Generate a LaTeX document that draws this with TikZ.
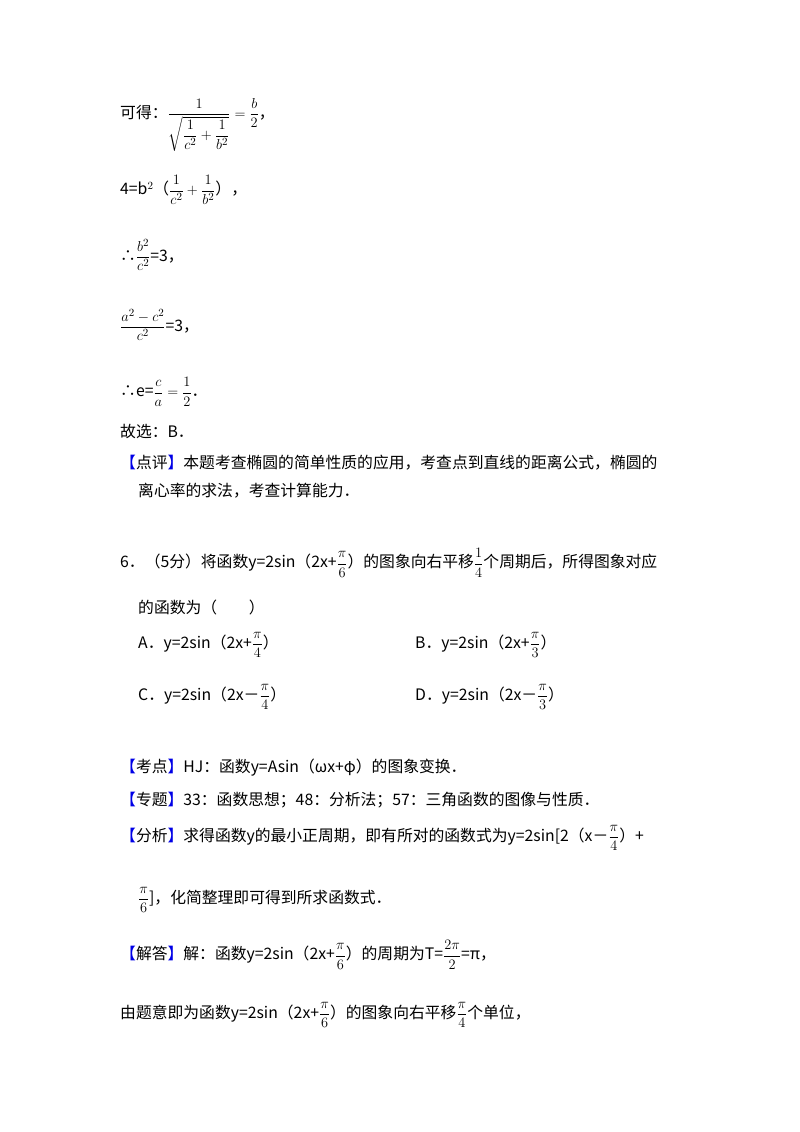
\documentclass[tikz,border=0pt]{standalone}
\usepackage{fontspec}
\setmainfont{Noto Sans CJK SC}
\usepackage{amsmath}
\definecolor{bl}{RGB}{0,0,230}
\begin{document}
\begin{tikzpicture}[x=1pt,y=-1pt,
  t/.style={anchor=west,inner sep=0pt,font=\fontsize{15.8}{18}\selectfont}]
\useasboundingbox[fill=white] (0,0) rectangle (800,1132);
\newcommand{\bk}[1]{\textcolor{bl}{【}#1\textcolor{bl}{】}}
\newcommand{\fr}[2]{{\displaystyle\frac{#1}{#2}}}
\node[t] (l1) at (120,125) {可得：$\fr{1}{\sqrt{\fr{1}{c^2}+\fr{1}{b^2}}}=\fr{b}{2}$，};
\node[t] (l2) at (120,190) {4=b$^2$（$\fr{1}{c^2}+\fr{1}{b^2}$），};
\node[t] (l3) at (120,255) {∴$\fr{b^2}{c^2}$=3，};
\node[t] (l4) at (120,325) {$\fr{a^2-c^2}{c^2}$=3，};
\node[t] (l5) at (120,392) {∴e=$\fr{c}{a}=\fr{1}{2}$．};
\node[t] (l6) at (120,431) {故选：B．};
\node[t] (l7) at (120,463) {\bk{点评}本题考查椭圆的简单性质的应用，考查点到直线的距离公式，椭圆的};
\node[t] (l8) at (138,491) {离心率的求法，考查计算能力．};
\node[t] (q1) at (120,563) {6．（5分）将函数y=2sin（2x+$\fr{\pi}{6}$）的图象向右平移$\fr{1}{4}$个周期后，所得图象对应};
\node[t] (q2) at (138,607) {的函数为（\qquad）};
\node[t] (qa) at (138,645) {A．y=2sin（2x+$\fr{\pi}{4}$）};
\node[t] (qb) at (415,645) {B．y=2sin（2x+$\fr{\pi}{3}$）};
\node[t] (qc) at (138,697) {C．y=2sin（2x－$\fr{\pi}{4}$）};
\node[t] (qd) at (415,697) {D．y=2sin（2x－$\fr{\pi}{3}$）};
\node[t] (k1) at (120,768) {\bk{考点}HJ：函数y=Asin（ωx+φ）的图象变换．};
\node[t] (k2) at (120,800) {\bk{专题}33：函数思想；48：分析法；57：三角函数的图像与性质．};
\node[t] (k3) at (120,838) {\bk{分析}求得函数y的最小正周期，即有所对的函数式为y=2sin[2（x－$\fr{\pi}{4}$）+};
\node[t] (k4) at (138,900) {$\fr{\pi}{6}$]，化简整理即可得到所求函数式．};
\node[t] (k5) at (120,955) {\bk{解答}解：函数y=2sin（2x+$\fr{\pi}{6}$）的周期为T=$\fr{2\pi}{2}$=π，};
\node[t] (k6) at (120,1015) {由题意即为函数y=2sin（2x+$\fr{\pi}{6}$）的图象向右平移$\fr{\pi}{4}$个单位，};
\end{tikzpicture}
\end{document}
